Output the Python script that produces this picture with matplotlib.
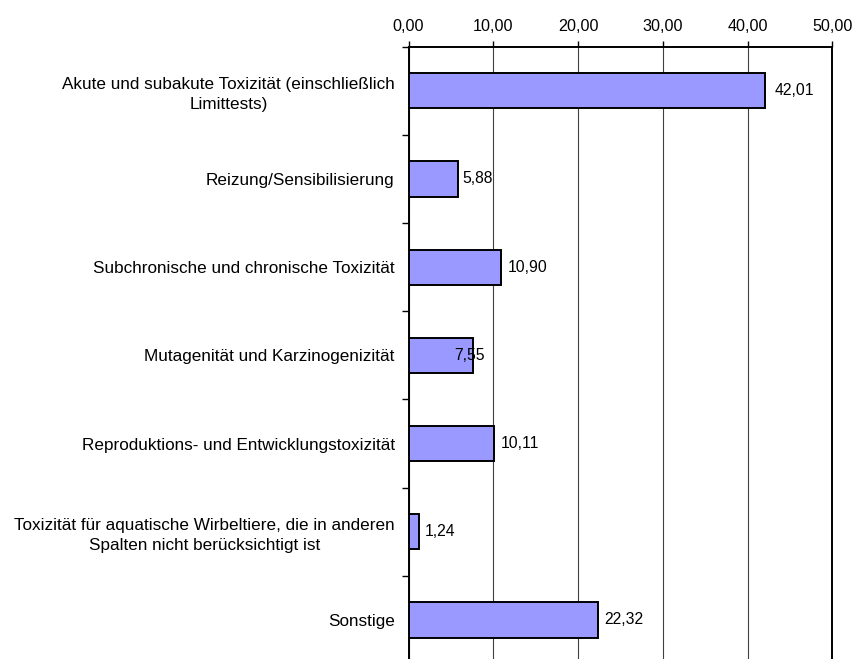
import numpy as np
import matplotlib.pyplot as plt
from matplotlib.ticker import FixedLocator, FuncFormatter

plt.rcParams['font.family'] = ['Liberation Sans', 'DejaVu Sans']

categories = [
    'Akute und subakute Toxizität (einschließlich\nLimittests)',
    'Reizung/Sensibilisierung',
    'Subchronische und chronische Toxizität',
    'Mutagenität und Karzinogenizität',
    'Reproduktions- und Entwicklungstoxizität',
    'Toxizität für aquatische Wirbeltiere, die in anderen\nSpalten nicht berücksichtigt ist',
    'Sonstige',
]
values = [42.01, 5.88, 10.90, 7.55, 10.11, 1.24, 22.32]
# horizontal shift of each value label in points
label_shift = [7, 2.5, 5, -13, 5, 4, 4.5]


def de(v, pos=None):
	return f'{v:.2f}'.replace('.', ',')


def main():
	fig = plt.figure(figsize=(8.53, 6.59), dpi=100)
	ax = fig.add_axes([0.479, -0.0076, 0.4967, 0.9367])

	y = np.arange(len(categories))
	ax.barh(y, values, height=0.4, color='#9999ff', edgecolor='black', linewidth=1.4, zorder=3)

	for yi, v, dx in zip(y, values, label_shift):
		ax.annotate(de(v), (v, yi), xytext=(dx, 0), textcoords='offset points',
			ha='left', va='center', fontsize=11.3, zorder=4)

	ax.set_xlim(0, 50)
	ax.set_ylim(len(categories) - 0.5, -0.5)
	ax.xaxis.tick_top()
	ax.set_xticks(np.arange(0, 51, 10))
	ax.xaxis.set_major_formatter(FuncFormatter(de))
	ax.tick_params(axis='x', direction='out', length=4, width=1, labelsize=11.6, pad=5)
	ax.grid(axis='x', color='#404040', linewidth=0.8, zorder=0)

	ax.set_yticks(y)
	ax.set_yticklabels(categories, ha='right', multialignment='center', linespacing=1.4)
	ax.tick_params(axis='y', which='major', length=0, labelsize=12.3, pad=10)
	ax.yaxis.set_minor_locator(FixedLocator(np.arange(-0.5, len(categories), 1)))
	ax.tick_params(axis='y', which='minor', length=5, width=1, direction='out')

	for s in ['left', 'top', 'right']:
		ax.spines[s].set_linewidth(1.4)
	ax.spines['bottom'].set_visible(False)

	fig.savefig('out.png', dpi=100)


if __name__ == '__main__':
	main()
